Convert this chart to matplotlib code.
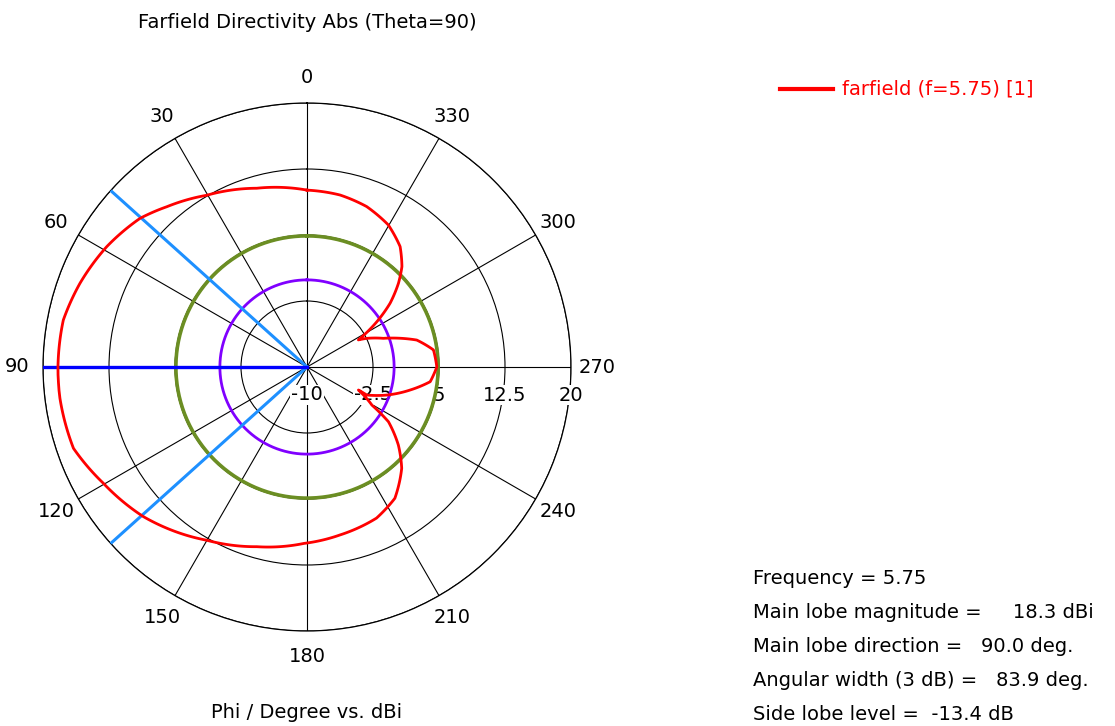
import numpy as np
import matplotlib.pyplot as plt

# farfield cut (phi in degrees, directivity in dBi)
phi_deg = [0, 15.7, 30.3, 41.2, 48.3, 59, 69.8, 79.1, 90, 97.2, 109.2, 119.7,
           132.4, 149.9, 164.4, 179, 191.1, 204.7, 213.8, 223.1, 229.5, 236.1,
           239.6, 245.9, 244.9, 250.6, 257.4, 263.2, 270, 277.7, 283.8, 290.6,
           295.7, 297.8, 303.4, 307.5, 312.5, 316.6, 322.3, 330.2, 339.6,
           349.1, 360]
dbi = [10.1, 11.1, 12.6, 14.2, 15.4, 16.55, 17.5, 18.2, 18.3, 18.3, 18.1,
       16.65, 15.2, 12.75, 11.2, 10.05, 9.45, 8.9, 7.95, 5.75, 3.65, 1.15,
       -1.45, -3.6, -2.5, -0.4, 2.0, 4.1, 4.75, 4.5, 2.84, -0.74, -2.5, -3.4,
       -0.3, 1.9, 4.1, 5.7, 7.3, 8.6, 9.45, 9.9, 10.1]

main_mag = 18.3
main_dir = 90.0
beam_width = 83.9
side_lobe = -13.4
purple_level = -0.1

r_ticks = [-10, -2.5, 5, 12.5, 20]
r_tick_labels = ['-10', '-2.5', '5', '12.5', '20']
theta_ticks = list(range(0, 360, 30))

info = ['Frequency = 5.75',
        'Main lobe magnitude =     18.3 dBi',
        'Main lobe direction =   90.0 deg.',
        'Angular width (3 dB) =   83.9 deg.',
        'Side lobe level =  -13.4 dB']

plt.rcParams['font.family'] = ['DejaVu Sans']
fs = 14

fig = plt.figure(figsize=(11.15, 7.26), dpi=100)
ax = fig.add_axes([(307 - 264) / 1115, (726 - 367 - 264) / 726,
                   528 / 1115, 528 / 726], projection='polar')
ax.set_theta_zero_location('N')
ax.set_theta_direction(1)
ax.set_ylim(-10, 20)

ax.set_rticks(r_ticks)
ax.set_yticklabels([])
ax.set_thetagrids(theta_ticks, [str(t) for t in theta_ticks], fontsize=fs)
ax.tick_params(axis='x', pad=8)
ax.grid(True, color='black', linewidth=0.8)
ax.spines['polar'].set_color('black')
ax.spines['polar'].set_linewidth(0.9)

# radial labels below the 270 axis
for r, lab in zip(r_ticks, r_tick_labels):
    ax.annotate(lab, xy=(np.deg2rad(270), r), xytext=(0, -28),
                textcoords='offset pixels', ha='center', va='center',
                fontsize=fs, zorder=3,
                bbox=dict(facecolor='white', edgecolor='none', pad=0.5))

full = np.linspace(0, 2 * np.pi, 400)
ax.plot(full, np.full_like(full, main_mag + side_lobe), color='#6b8e23',
        lw=2.6, zorder=4)
ax.plot(full, np.full_like(full, purple_level), color='#8000ff', lw=2.0,
        zorder=4)

for a in (main_dir - beam_width / 2, main_dir + beam_width / 2):
    ax.plot([np.deg2rad(a)] * 2, [-10, 20], color='#1e90ff', lw=2.2, zorder=5)
ax.plot([np.deg2rad(main_dir)] * 2, [-10, 20], color='#0000ff', lw=2.4,
        zorder=5)

ln, = ax.plot(np.deg2rad(phi_deg), dbi, color='red', lw=2.0, zorder=6)
ln.get_path()._interpolation_steps = 40

fig.text(307 / 1115, 1 - 22 / 726, 'Farfield Directivity Abs (Theta=90)',
         ha='center', va='center', fontsize=fs)
fig.text(307 / 1115, 1 - 713 / 726, 'Phi / Degree vs. dBi',
         ha='center', va='center', fontsize=fs)

# legend
fig.lines.append(plt.Line2D([780 / 1115, 833 / 1115], [1 - 89 / 726] * 2,
                            color='red', lw=3, transform=fig.transFigure))
fig.text(842 / 1115, 1 - 89 / 726, 'farfield (f=5.75) [1]', color='red',
         ha='left', va='center', fontsize=fs)

for i, line in enumerate(info):
    fig.text(753 / 1115, 1 - (578 + 34 * i) / 726, line, ha='left',
             va='center', fontsize=fs)

fig.savefig('out.png', dpi=100)
